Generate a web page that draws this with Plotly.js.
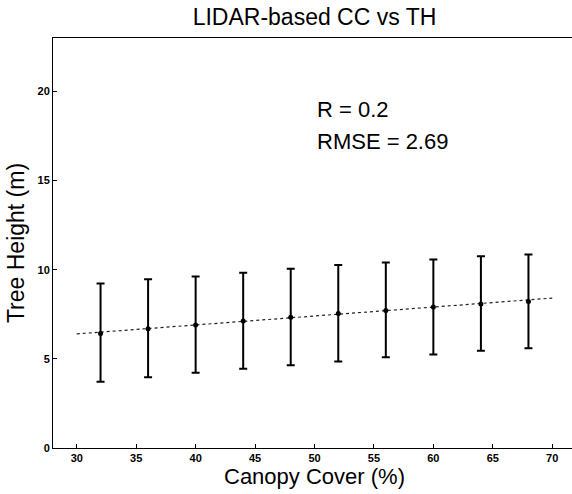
<!DOCTYPE html>
<html>
<head>
<meta charset="utf-8">
<script src="https://cdn.plot.ly/plotly-3.0.1.min.js"></script>
<style>html,body{margin:0;padding:0;background:#fff;overflow:hidden;}#chart{width:576px;height:494px;}</style>
</head>
<body>
<div id="chart"></div>
<script>
// Data
const canopyCover = [32, 36, 40, 44, 48, 52, 56, 60, 64, 68];
const treeHeightMean = [6.43, 6.69, 6.90, 7.13, 7.33, 7.55, 7.72, 7.91, 8.08, 8.22];
const treeHeightUpper = [9.23, 9.46, 9.62, 9.83, 10.06, 10.26, 10.41, 10.58, 10.75, 10.86];
const treeHeightLower = [3.71, 3.97, 4.22, 4.44, 4.64, 4.85, 5.09, 5.24, 5.45, 5.59];
const fitX = [30, 70];
const fitY = [6.40, 8.41];
const xTicks = [30, 35, 40, 45, 50, 55, 60, 65, 70];
const yTicks = [0, 5, 10, 15, 20];
const statLines = ["R = 0.2", "RMSE = 2.69"];
const chartTitle = "LIDAR-based CC vs TH";
const xTitle = "Canopy Cover (%)";
const yTitle = "Tree Height (m)";

const errPlus = treeHeightUpper.map((u, i) => u - treeHeightMean[i]);
const errMinus = treeHeightMean.map((m, i) => m - treeHeightLower[i]);

const FONT = "Liberation Sans, Arial, sans-serif";

const traces = [
  {
    x: fitX, y: fitY, type: "scatter", mode: "lines",
    line: {color: "#222", width: 1.2, dash: "dot"},
    hoverinfo: "skip", showlegend: false
  },
  {
    x: canopyCover, y: treeHeightMean, type: "scatter", mode: "markers",
    marker: {color: "#000", size: 5, symbol: "circle"},
    error_y: {type: "data", symmetric: false, array: errPlus, arrayminus: errMinus,
              color: "#000", thickness: 2, width: 4},
    showlegend: false
  }
];

const layout = {
  width: 576, height: 494,
  margin: {l: 53, r: 0, t: 38, b: 46},
  paper_bgcolor: "#fff", plot_bgcolor: "#fff",
  font: {family: FONT, color: "#000"},
  title: {text: chartTitle, font: {family: FONT, size: 23, color: "#000"},
          x: 0.5, xref: "paper", y: 1 - 17/494, yref: "container", yanchor: "middle"},
  xaxis: {
    range: [28, 72], tickvals: xTicks, ticktext: xTicks.map(String),
    ticks: "inside", ticklen: 4, tickwidth: 1, tickcolor: "#000",
    showline: true, linecolor: "#000", linewidth: 1, mirror: true,
    showgrid: false, zeroline: false,
    tickfont: {family: FONT, size: 11, weight: "bold", color: "#000"}
  },
  yaxis: {
    range: [0, 23], tickvals: yTicks, ticktext: yTicks.map(String),
    ticks: "inside", ticklen: 4, tickwidth: 1, tickcolor: "#000",
    showline: true, linecolor: "#000", linewidth: 1, mirror: true,
    showgrid: false, zeroline: false,
    tickfont: {family: FONT, size: 11, weight: "bold", color: "#000"},
    title: {text: yTitle, font: {family: FONT, size: 23, color: "#000"}, standoff: 6}
  },
  annotations: [
    {x: 0.5, y: 0, xref: "paper", yref: "paper", yshift: -15, text: xTitle, showarrow: false,
     xanchor: "center", yanchor: "top", borderpad: 0, font: {family: FONT, size: 22, color: "#000"}},
    {x: 50, y: 19.0, xref: "x", yref: "y", text: statLines[0], showarrow: false,
     xanchor: "left", yanchor: "middle", font: {family: FONT, size: 22, color: "#000"}},
    {x: 50, y: 17.2, xref: "x", yref: "y", text: statLines[1], showarrow: false,
     xanchor: "left", yanchor: "middle", font: {family: FONT, size: 22, color: "#000"}}
  ]
};

Plotly.newPlot("chart", traces, layout, {displayModeBar: false, staticPlot: true});
</script>
</body>
</html>
